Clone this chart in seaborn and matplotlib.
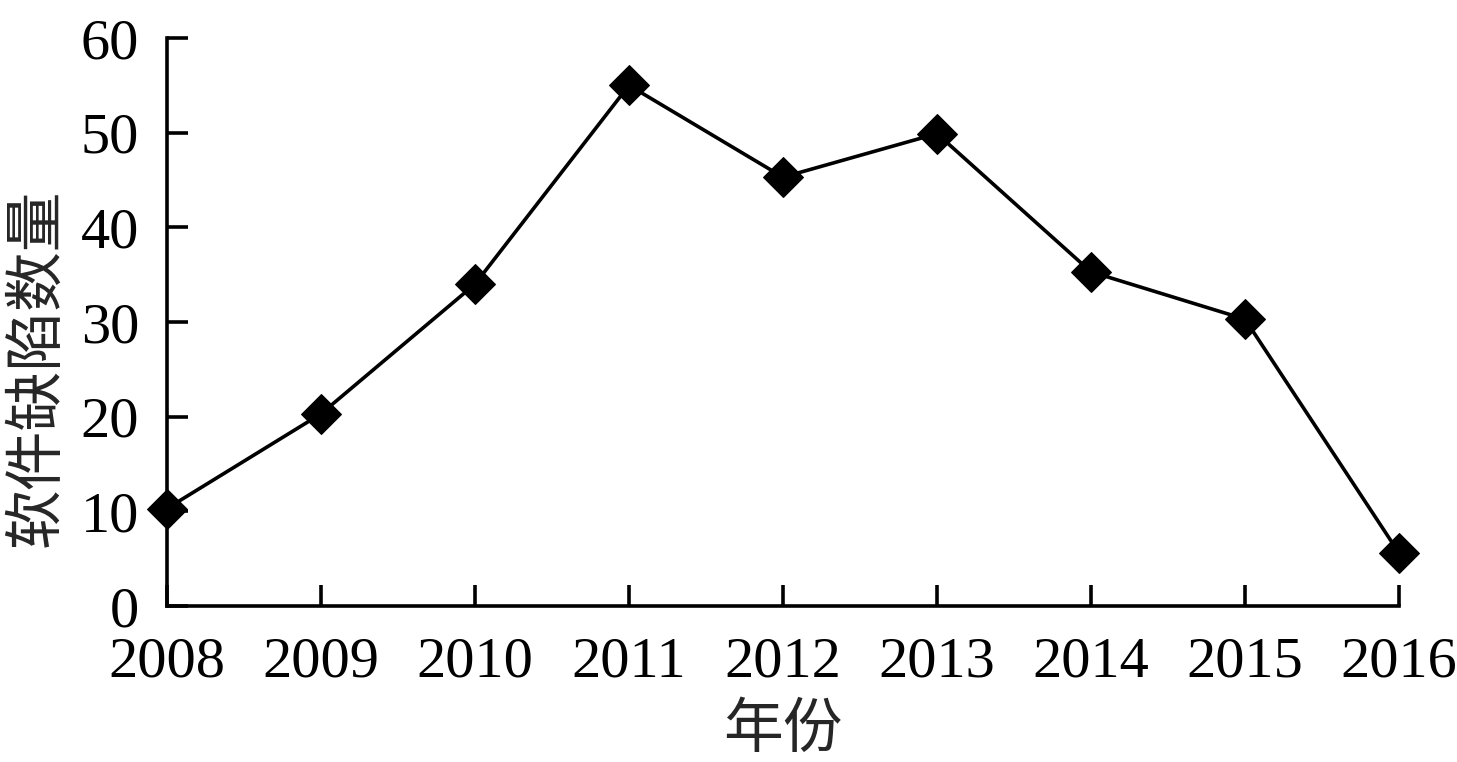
import pandas as pd
import seaborn as sns
import matplotlib.pyplot as plt

# data
years = [2008, 2009, 2010, 2011, 2012, 2013, 2014, 2015, 2016]
defects = [10.3, 20.3, 34.0, 55.0, 45.3, 49.9, 35.3, 30.3, 5.6]
y_ticks = [0, 10, 20, 30, 40, 50, 60]

df = pd.DataFrame({"year": years, "defects": defects})

sns.set_style("ticks")
plt.rcParams["font.family"] = ["Liberation Serif", "Noto Sans CJK SC"]

fig = plt.figure(figsize=(14.57, 7.62), dpi=100)
ax = fig.add_axes([0.1146, 0.2047, 0.8456, 0.7454])

sns.lineplot(data=df, x="year", y="defects", ax=ax, color="black", linewidth=2.6,
             marker="D", markersize=20, markeredgecolor="black",
             markerfacecolor="black", clip_on=False)

ax.set_xlim(2008, 2016)
ax.set_ylim(0, 60)
ax.set_xticks(years)
ax.set_xticklabels([str(y) for y in years])
ax.set_yticks(y_ticks)

for side in ["top", "right"]:
    ax.spines[side].set_visible(False)
for side in ["left", "bottom"]:
    ax.spines[side].set_linewidth(2.6)
    ax.spines[side].set_color("black")

ax.tick_params(axis="both", direction="in", length=15, width=2.6, colors="black",
               labelsize=42)
ax.tick_params(axis="y", pad=20)
ax.tick_params(axis="x", pad=22)

ax.set_xlabel("年份", fontsize=43, family=["Noto Sans CJK SC"], labelpad=8)
ax.set_ylabel("软件缺陷数量", fontsize=43, family=["Noto Sans CJK SC"])
ax.yaxis.set_label_coords(-0.081, 0.42)

fig.savefig("out.png", dpi=100)
